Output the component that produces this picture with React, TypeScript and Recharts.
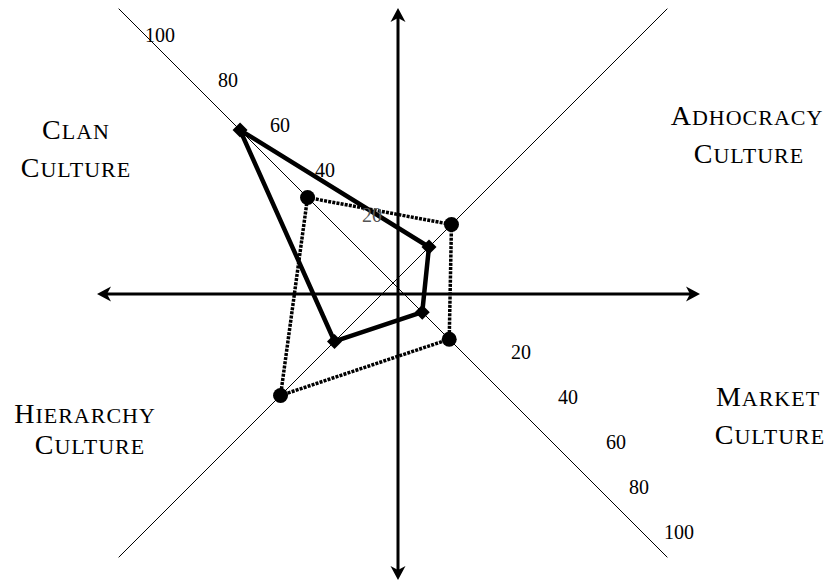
import React from 'react';
import { RadarChart, Radar, PolarGrid, PolarAngleAxis, PolarRadiusAxis } from 'recharts';

// ---- data ----
const categories = ['Clan', 'Adhocracy', 'Market', 'Hierarchy'];
const solidSeries = [68, 16, 13, 26];   // diamond markers, solid line
const dottedSeries = [38, 26, 25, 50];  // circle markers, dotted line
const tickValues = [20, 40, 60, 80, 100];
const quadrantTitles = ['Clan', 'Adhocracy', 'Market', 'Hierarchy'];
const quadrantSubtitle = 'Culture';

const data = categories.map((c, i) => ({ category: c, solid: solidSeries[i], dotted: dottedSeries[i] }));

// ---- layout ----
const W = 832;
const H = 585;
const CX = 393;
const CY = 283;
const R = 388;
const MAX = 122;
const FONT = '"Liberation Serif", "Times New Roman", serif';

const clanNudge = [1, -1, -1, -8, -31];
const marketNudge = [-2, 0, 3, -19, -24];

function RadiusTick(props: any) {
  const { x, y, payload } = props;
  const i = tickValues.indexOf(Number(payload.value));
  const mx = 2 * CX - x;
  const my = 2 * CY - y;
  const common = {
    fontFamily: FONT,
    fontSize: 20,
    textAnchor: 'middle' as const,
    dominantBaseline: 'central' as const,
  };
  return (
    <g>
      <text {...common} x={x + 23 + (clanNudge[i] || 0)} y={y - 23} fill={i === 0 ? '#555' : '#000'}>
        {payload.value}
      </text>
      <text {...common} x={mx + 85 + (marketNudge[i] || 0)} y={my + 24} fill="#000">
        {payload.value}
      </text>
    </g>
  );
}

function DiamondDot(props: any) {
  const { cx, cy, index } = props;
  const s = 7.5;
  return (
    <path
      key={`d-${index}`}
      d={`M${cx},${cy - s} L${cx + s},${cy} L${cx},${cy + s} L${cx - s},${cy} Z`}
      fill="#000"
      stroke="none"
    />
  );
}

function CircleDot(props: any) {
  const { cx, cy, index } = props;
  return <circle key={`c-${index}`} cx={cx} cy={cy} r={7.5} fill="#000" stroke="none" />;
}

function arrowHead(tx: number, ty: number, dx: number, dy: number) {
  const L = 14;
  const Wd = 7.5;
  const N = 10;
  const bx = tx - dx * L;
  const by = ty - dy * L;
  const px = -dy;
  const py = dx;
  const nx = tx - dx * N;
  const ny = ty - dy * N;
  return `M${tx},${ty} L${bx + px * Wd},${by + py * Wd} L${nx},${ny} L${bx - px * Wd},${by - py * Wd} Z`;
}

function SmallCaps({ word, x, y }: { word: string; x: number; y: number }) {
  return (
    <text x={x} y={y} textAnchor="middle" fontFamily={FONT} fill="#000" letterSpacing={1}>
      <tspan fontSize={28}>{word[0].toUpperCase()}</tspan>
      <tspan fontSize={22}>{word.slice(1).toUpperCase()}</tspan>
    </text>
  );
}

const labelPos = [
  { x: 76, y1: 139, x2: 76, y2: 177 },
  { x: 747, y1: 125, x2: 749, y2: 163 },
  { x: 768, y1: 406, x2: 770, y2: 444 },
  { x: 85, y1: 423, x2: 90, y2: 454 },
];

export default function App() {
  const ax = 398;
  const ay = 294;
  return (
    <div style={{ position: 'absolute', left: 0, top: 0, width: W, height: H, background: '#fff' }}>
      <svg width={W} height={H} style={{ position: 'absolute', left: 0, top: 0 }}>
        {/* main axes arrows */}
        <line x1={105} y1={ay} x2={692} y2={ay} stroke="#000" strokeWidth={3} />
        <line x1={ax} y1={16} x2={ax} y2={572} stroke="#000" strokeWidth={3} />
        <path d={arrowHead(97, ay, -1, 0)} fill="#000" />
        <path d={arrowHead(700, ay, 1, 0)} fill="#000" />
        <path d={arrowHead(ax, 8, 0, -1)} fill="#000" />
        <path d={arrowHead(ax, 580, 0, 1)} fill="#000" />
        {quadrantTitles.map((t, i) => (
          <g key={t}>
            <SmallCaps word={t} x={labelPos[i].x} y={labelPos[i].y1} />
            <SmallCaps word={quadrantSubtitle} x={labelPos[i].x2} y={labelPos[i].y2} />
          </g>
        ))}
      </svg>
      <div style={{ position: 'absolute', left: 0, top: 0 }}>
        <RadarChart
          width={W}
          height={H}
          data={data}
          cx={CX}
          cy={CY}
          outerRadius={R}
          startAngle={135}
          endAngle={-225}
          margin={{ top: 0, right: 0, bottom: 0, left: 0 }}
        >
          <PolarGrid gridType="circle" polarRadius={[]} stroke="#000" strokeWidth={1} strokeOpacity={1} />
          <PolarAngleAxis dataKey="category" tick={false} axisLine={false} tickLine={false} />
          <PolarRadiusAxis
            angle={135}
            type="number"
            domain={[0, MAX]}
            ticks={tickValues}
            axisLine={false}
            tickLine={false}
            tick={RadiusTick}
          />
          <Radar
            dataKey="dotted"
            stroke="#000"
            strokeWidth={3.5}
            strokeDasharray="3 1.2"
            fill="none"
            fillOpacity={0}
            dot={CircleDot}
            isAnimationActive={false}
          />
          <Radar
            dataKey="solid"
            stroke="#000"
            strokeWidth={4.5}
            strokeLinejoin="round"
            fill="none"
            fillOpacity={0}
            dot={DiamondDot}
            isAnimationActive={false}
          />
        </RadarChart>
      </div>
    </div>
  );
}
